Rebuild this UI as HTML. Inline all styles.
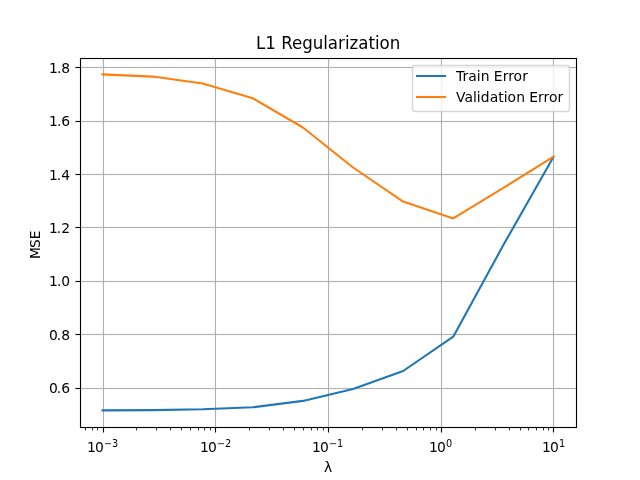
<!DOCTYPE html>
<html lang="en">
<head>
<meta charset="utf-8">
<title>L1 Regularization</title>
<style>
html,body{margin:0;padding:0;background:#fff;}
body{width:640px;height:480px;overflow:hidden;}
svg{display:block;}
text{font-family:'DejaVu Sans', 'Liberation Sans', sans-serif;fill:#000;}
</style>
</head>
<body>
<svg width="640" height="480" viewBox="0 0 640 480">
<rect x="0" y="0" width="640" height="480" fill="#ffffff"/>
<defs><clipPath id="ax"><rect x="80" y="57.6" width="496" height="369.6"/></clipPath><clipPath id="gr"><rect x="81" y="59" width="495" height="368"/></clipPath></defs>
<g stroke="#b0b0b0" stroke-width="1.1111" fill="none" clip-path="url(#gr)">
<line x1="103.5" y1="57.6" x2="103.5" y2="427.2"/>
<line x1="215.5" y1="57.6" x2="215.5" y2="427.2"/>
<line x1="328.5" y1="57.6" x2="328.5" y2="427.2"/>
<line x1="441.5" y1="57.6" x2="441.5" y2="427.2"/>
<line x1="553.5" y1="57.6" x2="553.5" y2="427.2"/>
<rect x="80" y="387.9444" width="496" height="1.1111" stroke="none" fill="#b0b0b0"/>
<rect x="80" y="333.9444" width="496" height="1.1111" stroke="none" fill="#b0b0b0"/>
<rect x="80" y="280.9444" width="496" height="1.1111" stroke="none" fill="#b0b0b0"/>
<rect x="80" y="226.9444" width="496" height="1.1111" stroke="none" fill="#b0b0b0"/>
<rect x="80" y="173.9444" width="496" height="1.1111" stroke="none" fill="#b0b0b0"/>
<rect x="80" y="120.9444" width="496" height="1.1111" stroke="none" fill="#b0b0b0"/>
<rect x="80" y="66.9444" width="496" height="1.1111" stroke="none" fill="#b0b0b0"/>
</g>
<g stroke="#000" stroke-width="1.1111" fill="none">
<line x1="103.5" y1="428" x2="103.5" y2="432.5"/>
<line x1="215.5" y1="428" x2="215.5" y2="432.5"/>
<line x1="328.5" y1="428" x2="328.5" y2="432.5"/>
<line x1="441.5" y1="428" x2="441.5" y2="432.5"/>
<line x1="553.5" y1="428" x2="553.5" y2="432.5"/>
<rect x="75.5" y="387.9444" width="4.5" height="1.1111" stroke="none" fill="#000"/>
<rect x="75.5" y="333.9444" width="4.5" height="1.1111" stroke="none" fill="#000"/>
<rect x="75.5" y="280.9444" width="4.5" height="1.1111" stroke="none" fill="#000"/>
<rect x="75.5" y="226.9444" width="4.5" height="1.1111" stroke="none" fill="#000"/>
<rect x="75.5" y="173.9444" width="4.5" height="1.1111" stroke="none" fill="#000"/>
<rect x="75.5" y="120.9444" width="4.5" height="1.1111" stroke="none" fill="#000"/>
<rect x="75.5" y="66.9444" width="4.5" height="1.1111" stroke="none" fill="#000"/>
</g>
<g stroke="#000" stroke-width="0.8333" fill="none">
<line x1="85.5" y1="428" x2="85.5" y2="430.42"/>
<line x1="92.5" y1="428" x2="92.5" y2="430.42"/>
<line x1="97.5" y1="428" x2="97.5" y2="430.42"/>
<line x1="136.5" y1="428" x2="136.5" y2="430.42"/>
<line x1="156.5" y1="428" x2="156.5" y2="430.42"/>
<line x1="170.5" y1="428" x2="170.5" y2="430.42"/>
<line x1="181.5" y1="428" x2="181.5" y2="430.42"/>
<line x1="190.5" y1="428" x2="190.5" y2="430.42"/>
<line x1="198.5" y1="428" x2="198.5" y2="430.42"/>
<line x1="204.5" y1="428" x2="204.5" y2="430.42"/>
<line x1="210.5" y1="428" x2="210.5" y2="430.42"/>
<line x1="249.5" y1="428" x2="249.5" y2="430.42"/>
<line x1="269.5" y1="428" x2="269.5" y2="430.42"/>
<line x1="283.5" y1="428" x2="283.5" y2="430.42"/>
<line x1="294.5" y1="428" x2="294.5" y2="430.42"/>
<line x1="303.5" y1="428" x2="303.5" y2="430.42"/>
<line x1="311.5" y1="428" x2="311.5" y2="430.42"/>
<line x1="317.5" y1="428" x2="317.5" y2="430.42"/>
<line x1="323.5" y1="428" x2="323.5" y2="430.42"/>
<line x1="362.5" y1="428" x2="362.5" y2="430.42"/>
<line x1="382.5" y1="428" x2="382.5" y2="430.42"/>
<line x1="396.5" y1="428" x2="396.5" y2="430.42"/>
<line x1="407.5" y1="428" x2="407.5" y2="430.42"/>
<line x1="416.5" y1="428" x2="416.5" y2="430.42"/>
<line x1="423.5" y1="428" x2="423.5" y2="430.42"/>
<line x1="430.5" y1="428" x2="430.5" y2="430.42"/>
<line x1="436.5" y1="428" x2="436.5" y2="430.42"/>
<line x1="475.5" y1="428" x2="475.5" y2="430.42"/>
<line x1="495.5" y1="428" x2="495.5" y2="430.42"/>
<line x1="509.5" y1="428" x2="509.5" y2="430.42"/>
<line x1="520.5" y1="428" x2="520.5" y2="430.42"/>
<line x1="528.5" y1="428" x2="528.5" y2="430.42"/>
<line x1="536.5" y1="428" x2="536.5" y2="430.42"/>
<line x1="543.5" y1="428" x2="543.5" y2="430.42"/>
<line x1="548.5" y1="428" x2="548.5" y2="430.42"/>
</g>
<polyline points="102.545,410.400 152.646,410.133 202.747,409.332 252.848,407.248 302.949,400.892 353.051,389.086 403.152,371.004 453.253,336.683 503.354,245.071 553.455,156.984" fill="none" stroke="#1f77b4" stroke-width="2.0833" stroke-linejoin="round" stroke-linecap="square" clip-path="url(#ax)"/>
<polyline points="102.545,74.400 152.646,76.590 202.747,83.428 252.848,98.251 302.949,127.498 353.051,167.508 403.152,201.589 453.253,218.389 503.354,187.914 553.455,156.717" fill="none" stroke="#ff7f0e" stroke-width="2.0833" stroke-linejoin="round" stroke-linecap="square" clip-path="url(#ax)"/>
<g stroke="#000" stroke-width="1.1111" fill="none" stroke-linecap="square">
<line x1="80.5" y1="58.5" x2="80.5" y2="427.5"/>
<line x1="576.5" y1="58.5" x2="576.5" y2="427.5"/>
<rect x="79.9444" y="426.9444" width="497.111" height="1.1111" stroke="none" fill="#000"/>
<rect x="79.9444" y="57.9444" width="497.111" height="1.1111" stroke="none" fill="#000"/>
</g>
<text x="87 95.06" y="452" font-size="13.8889">10<tspan x="104.06 111.95" y="447" font-size="9.7222">−3</tspan></text>
<text x="199.95 208.01" y="452" font-size="13.8889">10<tspan x="217.01 224.9" y="447" font-size="9.7222">−2</tspan></text>
<text x="311.93 319.99" y="452" font-size="13.8889">10<tspan x="328.99 336.88" y="447" font-size="9.7222">−1</tspan></text>
<text x="429.05 437.11" y="452" font-size="13.8889">10<tspan x="446.11" y="447" font-size="9.7222">0</tspan></text>
<text x="541.95 550.01" y="452" font-size="13.8889">10<tspan x="559.01" y="447" font-size="9.7222">1</tspan></text>
<text x="48.95 56.76 61.19" y="393" font-size="13.8889">0.6</text>
<text x="49.05 56.86 61.29" y="340" font-size="13.8889">0.8</text>
<text x="48.95 57.01 61.19" y="286" font-size="13.8889">1.0</text>
<text x="49.08 56.64 61.32" y="233" font-size="13.8889">1.2</text>
<text x="49.1 56.66 61.34" y="180" font-size="13.8889">1.4</text>
<text x="49.06 57.12 61.3" y="126" font-size="13.8889">1.6</text>
<text x="48.95 57.01 61.19" y="73" font-size="13.8889">1.8</text>
<text x="323.89" y="472" font-size="13.8889">λ</text>
<text transform="translate(39.75 244.80) rotate(-90)" x="-14.27 -3.3 5.49" y="0" font-size="13.8889">MSE</text>
<text transform="translate(328.80 49) scale(1 1.08)" x="-72.74 -63.48 -52.38 -47.6 -36.77 -26.53 -15.96 -5.66 -1.04 9.17 16.27 20.64 29.38 39.59 46.12 50.74 60.92" y="0" font-size="16.6667">L1 Regularization</text>
<path d="M 415.278 111.500 L 566.722 111.500 Q 569.500 111.500 569.500 108.722 L 569.500 68.278 Q 569.500 65.500 566.722 65.500 L 415.278 65.500 Q 412.500 65.500 412.500 68.278 L 412.500 108.722 Q 412.500 111.500 415.278 111.500 Z" fill="#ffffff" stroke="#cccccc" stroke-width="1.3889" stroke-linejoin="miter" opacity="0.8"/>
<line x1="417.000" y1="76.000" x2="445.000" y2="76.000" stroke="#1f77b4" stroke-width="2.0833" stroke-linecap="square"/>
<text x="455.9 462.57 468.28 476.79 480.64 489.93 493.84 502.86 508.32 513.48 522.22" y="81" font-size="13.8889">Train Error</text>
<line x1="417.000" y1="97.000" x2="445.000" y2="97.000" stroke="#ff7f0e" stroke-width="2.0833" stroke-linecap="square"/>
<text x="455.95 464.61 473.11 476.72 480.83 489.87 498.37 503.83 507.42 516.17 524.45 529.37 537.89 543.59 549 557.48" y="102" font-size="13.8889">Validation Error</text>
</svg>
</body>
</html>
